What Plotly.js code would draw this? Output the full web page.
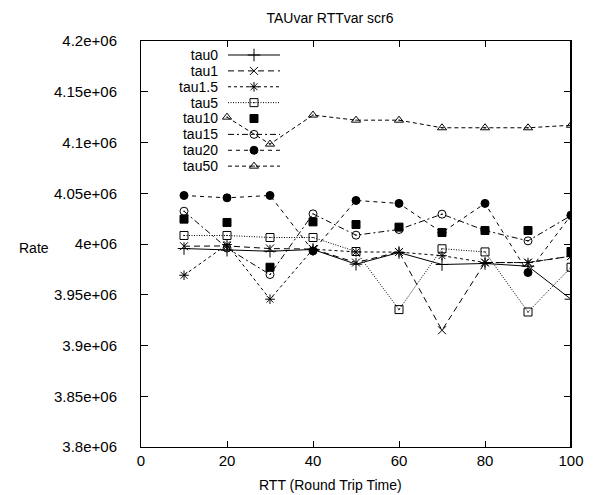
<!DOCTYPE html>
<html>
<head>
<meta charset="utf-8">
<script src="https://cdn.plot.ly/plotly-3.0.1.min.js"></script>
<style>html,body{margin:0;padding:0;background:#fff;}#chart{width:593px;height:495px;}</style>
</head>
<body>
<div id="chart"></div>
<script>
// RTT values (x)
var rtt = [10, 20, 30, 40, 50, 60, 70, 80, 90, 100];
var rtt50 = [20, 30, 40, 50, 60, 70, 80, 90, 100];

// Rate series
var tau0  = [3.9955e6, 3.9939e6, 3.9929e6, 3.9946e6, 3.9801e6, 3.9916e6, 3.9798e6, 3.9808e6, 3.9781e6, 3.9456e6];
var tau1  = [3.9978e6, 3.9981e6, 3.9955e6, 3.9950e6, 3.9817e6, 3.9922e6, 3.9150e6, 3.9817e6, 3.9817e6, 3.9880e6];
var tau1_5 = [3.9692e6, 3.9995e6, 3.9456e6, 3.9949e6, 3.9922e6, 3.9920e6, 3.9885e6, 3.9817e6, 3.9817e6, 3.9880e6];
var tau5  = [4.0084e6, 4.0084e6, 4.0064e6, 4.0064e6, 3.9926e6, 3.9354e6, 3.9953e6, 3.9922e6, 3.9330e6, 3.9771e6];
var tau10 = [4.0245e6, 4.0212e6, 3.9771e6, 4.0218e6, 4.0192e6, 4.0166e6, 4.0113e6, 4.0133e6, 4.0133e6, 3.9926e6];
var tau15 = [4.0323e6, 3.9960e6, 3.9699e6, 4.0297e6, 4.0087e6, 4.0143e6, 4.0294e6, 4.0133e6, 4.0031e6, 4.0280e6];
var tau20 = [4.0478e6, 4.0455e6, 4.0478e6, 3.9932e6, 4.0429e6, 4.0400e6, 4.0113e6, 4.0400e6, 3.9719e6, 4.0284e6];
var tau50 = [4.1250e6, 4.0984e6, 4.1270e6, 4.1220e6, 4.1220e6, 4.1145e6, 4.1145e6, 4.1145e6, 4.1170e6];

// Series names
var names = ["tau0", "tau1", "tau1.5", "tau5", "tau10", "tau15", "tau20", "tau50"];

// Tick labels
var yTickVals = [3.8e6, 3.85e6, 3.9e6, 3.95e6, 4.0e6, 4.05e6, 4.1e6, 4.15e6, 4.2e6];
var yTickText = ["3.8e+06", "3.85e+06", "3.9e+06", "3.95e+06", "4e+06", "4.05e+06", "4.1e+06", "4.15e+06", "4.2e+06"];
var xTickVals = [0, 20, 40, 60, 80, 100];
var xTickText = ["0", "20", "40", "60", "80", "100"];

var FONT = "Liberation Sans, Arial, Helvetica, sans-serif";

// styles per series (same order as names)
var styles = [
  {mode: "lines+markers", symbol: "cross-thin-open", size: 9, dash: "solid"},
  {mode: "lines+markers", symbol: "x-thin-open", size: 8, dash: "6px,4px"},
  {mode: "lines+markers", symbol: "asterisk-open", size: 8, dash: "3px,3px"},
  {mode: "lines+markers", symbol: "square-open-dot", size: 8, dash: "1px,1.5px"},
  {mode: "markers", symbol: "square", size: 8, dash: "solid"},
  {mode: "lines+markers", symbol: "circle-open-dot", size: 8, dash: "6px,3px,2px,3px"},
  {mode: "lines+markers", symbol: "circle", size: 8, dash: "4px,4px"},
  {mode: "lines+markers", symbol: "triangle-up-open-dot", size: 8, dash: "4px,3px"}
];
var xs = [rtt, rtt, rtt, rtt, rtt, rtt, rtt, rtt50];
var ys = [tau0, tau1, tau1_5, tau5, tau10, tau15, tau20, tau50];

var data = [];
for (var i = 0; i < names.length; i++) {
  var s = styles[i];
  data.push({
    type: "scatter", name: names[i], x: xs[i], y: ys[i], mode: s.mode, showlegend: false,
    line: {color: "#000", width: 1, dash: s.dash},
    marker: {symbol: s.symbol, size: s.size, color: "#000", line: {color: "#000", width: 1}}
  });
}

// Key (gnuplot-style: label on the left, sample on the right), drawn on
// overlay axes whose ranges are the plot area in pixels.
var PL = 141, PR = 571, PT = 41, PB = 446.6;
var keyTextRight = 218, keySampleL = 228, keySampleR = 280, keyTop = 55, keyStep = 15.86;
var keyRows = [];
for (var k = 0; k < names.length; k++) {
  var ry = keyTop + k * keyStep;
  keyRows.push(ry);
  var st = styles[k];
  var mid = (keySampleL + keySampleR) / 2;
  if (st.mode !== "markers") {
    data.push({
      type: "scatter", xaxis: "x2", yaxis: "y2", showlegend: false, hoverinfo: "skip",
      x: [keySampleL, keySampleR], y: [ry, ry], mode: "lines",
      line: {color: "#000", width: 1, dash: st.dash}
    });
  }
  data.push({
    type: "scatter", xaxis: "x2", yaxis: "y2", showlegend: false, hoverinfo: "skip",
    x: [mid], y: [ry], mode: "markers",
    marker: {symbol: st.symbol, size: st.size, color: "#000", line: {color: "#000", width: 1}}
  });
}

var layout = {
  width: 593, height: 495,
  margin: {l: 141, r: 22, t: 41, b: 48},
  paper_bgcolor: "#fff", plot_bgcolor: "#fff",
  font: {family: FONT, size: 14, color: "#000"},
  showlegend: false,
  title: {text: "TAUvar RTTvar scr6", font: {family: FONT, size: 14, color: "#000"},
          x: 330 / 593, xref: "container", xanchor: "center",
          y: 1 - 18 / 495, yref: "container", yanchor: "middle"},
  xaxis: {
    range: [0, 100], tickvals: xTickVals, ticktext: xTickText,
    ticks: "inside", ticklen: 6, tickcolor: "#000", tickwidth: 1,
    showline: true, linecolor: "#000", linewidth: 1, mirror: "ticks",
    showgrid: false, zeroline: false,
    tickfont: {family: FONT, size: 15, color: "#000"}, ticklabelstandoff: 0
  },
  yaxis: {
    range: [3.8e6, 4.2e6], tickvals: yTickVals, ticktext: yTickText,
    ticks: "inside", ticklen: 7, tickcolor: "#000", tickwidth: 1,
    showline: true, linecolor: "#000", linewidth: 1, mirror: "ticks",
    showgrid: false, zeroline: false,
    tickfont: {family: FONT, size: 15, color: "#000"}, ticklabelstandoff: 20
  },
  xaxis2: {overlaying: "x", range: [PL, PR], visible: false, fixedrange: true},
  yaxis2: {overlaying: "y", range: [PB, PT], fixedrange: true,
    anchor: "free", side: "left", position: (keyTextRight - PL) / (PR - PL),
    tickvals: keyRows, ticktext: names, ticks: "", showline: false,
    showgrid: false, zeroline: false, ticklabelstandoff: 0,
    tickfont: {family: FONT, size: 14, color: "#000"}},
  shapes: [
    {type: "line", xref: "paper", yref: "paper", x0: 1, x1: 1, y0: 0, y1: 1,
     line: {color: "#000", width: 2}}
  ],
  annotations: [
    {text: "Rate", xref: "paper", yref: "paper", x: -(PL - 34) / (PR - PL), y: 0.49,
     xanchor: "center", yanchor: "middle", showarrow: false,
     font: {family: FONT, size: 14, color: "#000"}},
    {text: "RTT (Round Trip Time)", xref: "paper", yref: "paper",
     x: (330 - PL) / (PR - PL), y: -(485 - PB) / (PB - PT),
     xanchor: "center", yanchor: "middle", showarrow: false,
     font: {family: FONT, size: 14, color: "#000"}}
  ]
};

Plotly.newPlot("chart", data, layout, {displayModeBar: false, staticPlot: true});
</script>
</body>
</html>
